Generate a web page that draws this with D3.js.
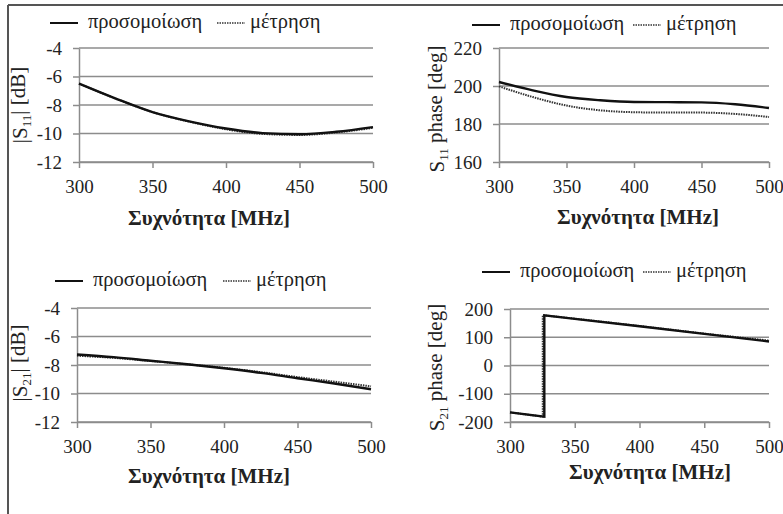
<!DOCTYPE html>
<html>
<head>
<meta charset="utf-8">
<script src="https://cdn.jsdelivr.net/npm/d3@7"></script>
<style>
  body { margin: 0; background: #fff; }
  svg { display: block; }
  svg text { font-family: "Liberation Serif", "DejaVu Serif", "Times New Roman", serif; }
</style>
</head>
<body>
<svg id="chart" width="783" height="514"></svg>
<script>
"use strict";

// frequency grid (MHz) and the read-off values
var freq = [300, 325, 350, 375, 400, 425, 450, 475, 500];
var freq_ticks = [300, 350, 400, 450, 500];

var s11_mag_sim  = [-6.5, -7.55, -8.5, -9.15, -9.65, -9.97, -10.05, -9.88, -9.55];
var s11_mag_meas = [-6.5, -7.55, -8.5, -9.17, -9.7, -10.03, -10.1, -9.93, -9.6];

var s11_phase_sim  = [202.1, 197.7, 194.2, 192.5, 191.6, 191.5, 191.4, 190.4, 188.4];
var s11_phase_meas = [199.8, 194.2, 189.7, 187.2, 186.2, 186.0, 186.0, 185.3, 183.7];

var s21_mag_sim  = [-7.26, -7.45, -7.7, -7.95, -8.23, -8.55, -8.93, -9.3, -9.7];
var s21_mag_meas = [-7.35, -7.5, -7.72, -7.95, -8.2, -8.5, -8.85, -9.17, -9.5];

// S21 phase wraps around at ~326 MHz
var s21_phase_freq_sim  = [300, 326.5, 326.5, 350, 400, 450, 500];
var s21_phase_sim       = [-166, -181, 177.5, 165, 139, 112, 85];
var s21_phase_freq_meas = [300, 325.3, 325.3, 350, 400, 450, 500];
var s21_phase_meas      = [-166, -181, 178, 166, 140, 113, 88];

var s11_mag_ticks   = [-12, -10, -8, -6, -4];
var s11_phase_ticks = [160, 180, 200, 220];
var s21_mag_ticks   = [-12, -10, -8, -6, -4];
var s21_phase_ticks = [-200, -100, 0, 100, 200];

var legend_labels = ['προσομοίωση', 'μέτρηση'];
var x_title = 'Συχνότητα [MHz]';

var FONT = '"Liberation Serif", "DejaVu Serif", "Times New Roman", serif';
var GRID = '#8c8c8c';

var svg = d3.select('#chart');

// frame lines (top and left edge of the scanned figure)
svg.append('line').attr('x1', 8).attr('x2', 783).attr('y1', 5).attr('y2', 5)
  .attr('stroke', '#555').attr('stroke-width', 2);
svg.append('line').attr('x1', 8).attr('x2', 8).attr('y1', 5).attr('y2', 514)
  .attr('stroke', '#555').attr('stroke-width', 2);

function zip(xs, ys) {
  return xs.map(function(x, i) { return [x, ys[i]]; });
}

function draw_panel(p) {
  var x = d3.scaleLinear().domain([300, 500]).range([p.left, p.right]);
  var y = d3.scaleLinear().domain(d3.extent(p.ticks)).range([p.bottom, p.top]);
  var g = svg.append('g');

  // gridlines
  g.selectAll('line.grid').data(p.ticks).enter().append('line')
    .attr('class', 'grid')
    .attr('x1', p.left).attr('x2', p.right)
    .attr('y1', function(d) { return y(d); }).attr('y2', function(d) { return y(d); })
    .attr('stroke', GRID).attr('stroke-width', 1.5);

  var ay = g.append('g').attr('transform', 'translate(' + p.left + ',0)')
    .call(d3.axisLeft(y).tickValues(p.ticks).tickSize(6).tickSizeOuter(0).tickPadding(11)
      .tickFormat(function(d) { return String(d); }));
  var ax = g.append('g').attr('transform', 'translate(0,' + p.bottom + ')')
    .call(d3.axisBottom(x).tickValues(freq_ticks).tickSize(6).tickSizeOuter(0).tickPadding(12));
  [ay, ax].forEach(function(a) {
    a.attr('font-family', FONT).attr('font-size', null);
    a.select('.domain').attr('stroke', GRID).attr('stroke-width', 1.5);
    a.selectAll('.tick line').attr('stroke', GRID).attr('stroke-width', 1.5);
    a.selectAll('.tick text').attr('fill', '#222').style('font-size', '19px');
  });

  var line = d3.line()
    .x(function(d) { return x(d[0]); })
    .y(function(d) { return y(d[1]); })
    .curve(p.linear ? d3.curveLinear : d3.curveMonotoneX);

  g.append('path').datum(p.meas).attr('d', line)
    .attr('fill', 'none').attr('stroke', '#333').attr('stroke-width', 2)
    .attr('stroke-dasharray', '1.5,1');
  g.append('path').datum(p.sim).attr('d', line)
    .attr('fill', 'none').attr('stroke', '#111').attr('stroke-width', 2.4);

  // x title
  g.append('text').attr('x', p.title_x).attr('y', p.title_y)
    .attr('text-anchor', 'middle').attr('font-weight', 'bold').attr('font-family', FONT)
    .style('font-size', '21px').attr('fill', '#222').text(x_title);

  // y title, rotated, with subscript
  var yt = g.append('text')
    .attr('transform', 'translate(' + p.ylab_x + ',' + ((p.top + p.bottom) / 2 + p.ylab_dy) + ') rotate(-90)')
    .attr('text-anchor', 'middle').attr('font-family', FONT)
    .style('font-size', '21px').attr('fill', '#222');
  yt.append('tspan').text(p.ylab[0]);
  yt.append('tspan').attr('dy', '0.3em').style('font-size', '13px').text(p.ylab[1]);
  yt.append('tspan').attr('dy', '-0.3em').text(p.ylab[2]);

  // legend
  var lg = g.append('g').attr('font-family', FONT);
  lg.append('line').attr('x1', p.leg[0]).attr('x2', p.leg[0] + 28)
    .attr('y1', p.leg_y).attr('y2', p.leg_y).attr('stroke', '#111').attr('stroke-width', 2);
  lg.append('text').attr('x', p.leg[0] + 38).attr('y', p.leg_y + 5)
    .style('font-size', '20.5px').attr('fill', '#222').text(legend_labels[0]);
  lg.append('line').attr('x1', p.leg[1]).attr('x2', p.leg[1] + 28)
    .attr('y1', p.leg_y).attr('y2', p.leg_y).attr('stroke', '#333').attr('stroke-width', 1.5)
    .attr('stroke-dasharray', '1.5,1');
  lg.append('text').attr('x', p.leg[1] + 33).attr('y', p.leg_y + 5)
    .style('font-size', '20.5px').attr('fill', '#222').text(legend_labels[1]);
}

draw_panel({
  left: 79, right: 373, top: 48, bottom: 162, ticks: s11_mag_ticks,
  sim: zip(freq, s11_mag_sim), meas: zip(freq, s11_mag_meas),
  title_x: 209, title_y: 225, ylab_x: 27, ylab_dy: 0, ylab: ['|S', '11', '| [dB]'],
  leg: [50, 217], leg_y: 23
});
draw_panel({
  left: 499, right: 769, top: 48, bottom: 162, ticks: s11_phase_ticks,
  sim: zip(freq, s11_phase_sim), meas: zip(freq, s11_phase_meas),
  title_x: 638, title_y: 224, ylab_x: 444, ylab_dy: 4, ylab: ['S', '11', ' phase [deg]'],
  leg: [472, 633], leg_y: 25
});
draw_panel({
  left: 77, right: 371, top: 308, bottom: 422, ticks: s21_mag_ticks,
  sim: zip(freq, s21_mag_sim), meas: zip(freq, s21_mag_meas),
  title_x: 209, title_y: 483, ylab_x: 27, ylab_dy: -2, ylab: ['|S', '21', '| [dB]'],
  leg: [55, 223], leg_y: 281
});
draw_panel({
  left: 510, right: 769, top: 309, bottom: 422, ticks: s21_phase_ticks, linear: true,
  sim: zip(s21_phase_freq_sim, s21_phase_sim), meas: zip(s21_phase_freq_meas, s21_phase_meas),
  title_x: 650, title_y: 479, ylab_x: 444, ylab_dy: 2, ylab: ['S', '21', ' phase [deg]'],
  leg: [482, 643], leg_y: 272
});
</script>
</body>
</html>
